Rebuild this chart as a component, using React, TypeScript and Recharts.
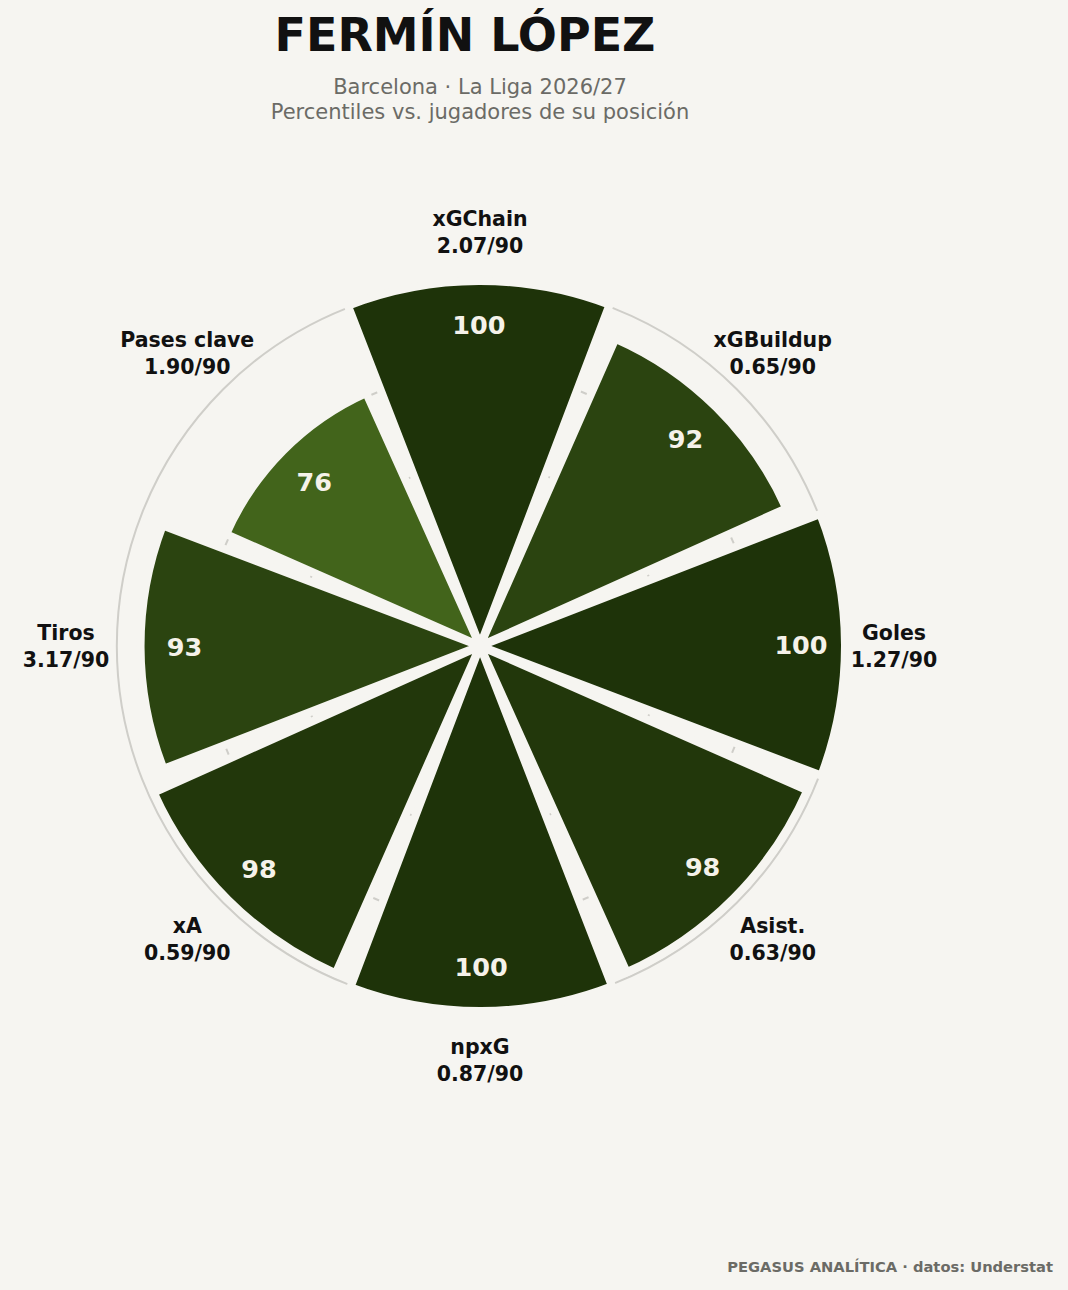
import React from "react";
import {
  RadialBarChart,
  RadialBar,
  PolarAngleAxis,
  PolarRadiusAxis,
  PolarGrid,
  Cell,
  Sector,
} from "recharts";

const categories = [
  "xGChain",
  "xGBuildup",
  "Goles",
  "Asist.",
  "npxG",
  "xA",
  "Tiros",
  "Pases clave",
];
const percentiles = [100, 92, 100, 98, 100, 98, 93, 76];
const per90 = ["2.07", "0.65", "1.27", "0.63", "0.87", "0.59", "3.17", "1.90"];
const gridTicks = [50, 75, 99.5];

const data = categories.map((name, i) => ({
  name,
  pct: percentiles[i],
  per90: per90[i],
}));

const BG = "#f6f5f1";
const CX = 480;
const CY = 646;
const RADIUS = 365;
const FONT = "'DejaVu Sans', Verdana, sans-serif";
const RAD = Math.PI / 180;
const HALF_BAND = 22.5;

const colorFor = (v: number) => {
  if (v >= 99) return "#1e3309";
  if (v >= 95) return "#22370b";
  if (v >= 90) return "#2b4410";
  return "#42641b";
};

const SliceShape = (props: any) => {
  const { cx, cy, innerRadius, outerRadius, startAngle, endAngle, fill } = props;
  const value = props.payload?.pct ?? props.value;
  const mid = ((startAngle + endAngle) / 2) * RAD;
  const r = outerRadius - 44;
  const tx = cx + r * Math.cos(mid);
  const ty = cy - r * Math.sin(mid);
  return (
    <g>
      <Sector
        cx={cx}
        cy={cy}
        innerRadius={innerRadius}
        outerRadius={outerRadius}
        startAngle={startAngle}
        endAngle={endAngle}
        fill={fill}
        stroke={BG}
        strokeWidth={8}
      />
      <text
        x={tx}
        y={ty}
        textAnchor="middle"
        dominantBaseline="central"
        fill="#f5f2ea"
        fontFamily={FONT}
        fontWeight="bold"
        fontSize={25.5}
      >
        {value}
      </text>
    </g>
  );
};

const AngleTick = (props: any) => {
  const { x, y, payload } = props;
  const cx = props.cx ?? CX;
  const cy = props.cy ?? CY;
  // tick sits at the band edge; move it to the middle of the slice
  const ang = Math.atan2(-(y - cy), x - cx) + HALF_BAND * RAD;
  const r = 414;
  const px = cx + r * Math.cos(ang);
  const py = cy - r * Math.sin(ang);
  const idx = categories.indexOf(payload.value);
  return (
    <g>
      <text
        x={px}
        y={py - 13}
        textAnchor="middle"
        dominantBaseline="central"
        fill="#111111"
        fontFamily={FONT}
        fontWeight="bold"
        fontSize={20.5}
      >
        {payload.value}
      </text>
      <text
        x={px}
        y={py + 14}
        textAnchor="middle"
        dominantBaseline="central"
        fill="#111111"
        fontFamily={FONT}
        fontWeight="bold"
        fontSize={20.5}
      >
        {per90[idx]}/90
      </text>
    </g>
  );
};

export default function App() {
  return (
    <div
      style={{
        position: "absolute",
        left: 0,
        top: 0,
        width: 1068,
        height: 1290,
        background: BG,
        fontFamily: FONT,
        overflow: "hidden",
      }}
    >
      <div
        style={{
          position: "absolute",
          left: 0,
          width: 930,
          top: 6,
          textAlign: "center",
          fontSize: 46,
          fontWeight: "bold",
          color: "#111111",
          lineHeight: "58px",
        }}
      >
        FERMÍN LÓPEZ
      </div>
      <div
        style={{
          position: "absolute",
          left: 0,
          width: 960,
          top: 75,
          textAlign: "center",
          fontSize: 21,
          color: "#6b6b66",
          lineHeight: "25px",
        }}
      >
        Barcelona · La Liga 2026/27
        <br />
        Percentiles vs. jugadores de su posición
      </div>
      <div style={{ position: "absolute", left: 0, top: 0 }}>
        <RadialBarChart
          width={1068}
          height={1290}
          data={data}
          cx={CX}
          cy={CY}
          innerRadius={0}
          outerRadius={RADIUS}
          startAngle={67.5}
          endAngle={-292.5}
          layout="centric"
          barCategoryGap="3.8%"
        >
          <PolarGrid
            gridType="circle"
            radialLines={false}
            stroke="#cfcec9"
            strokeWidth={2}
          />
          <PolarAngleAxis
            type="category"
            dataKey="name"
            axisLine={false}
            tickLine={false}
            tick={AngleTick}
          />
          <PolarRadiusAxis
            type="number"
            domain={[0, 100]}
            ticks={gridTicks}
            tick={false}
            axisLine={false}
          />
          <RadialBar
            dataKey="pct"
            isAnimationActive={false}
            shape={SliceShape}
            background={false}
          >
            {data.map((d, i) => (
              <Cell key={i} fill={colorFor(d.pct)} />
            ))}
          </RadialBar>
        </RadialBarChart>
      </div>
      <div
        style={{
          position: "absolute",
          right: 15,
          top: 1257,
          fontSize: 14.7,
          fontWeight: "bold",
          color: "#6b6b66",
          lineHeight: "20px",
        }}
      >
        PEGASUS ANALÍTICA · datos: Understat
      </div>
    </div>
  );
}
